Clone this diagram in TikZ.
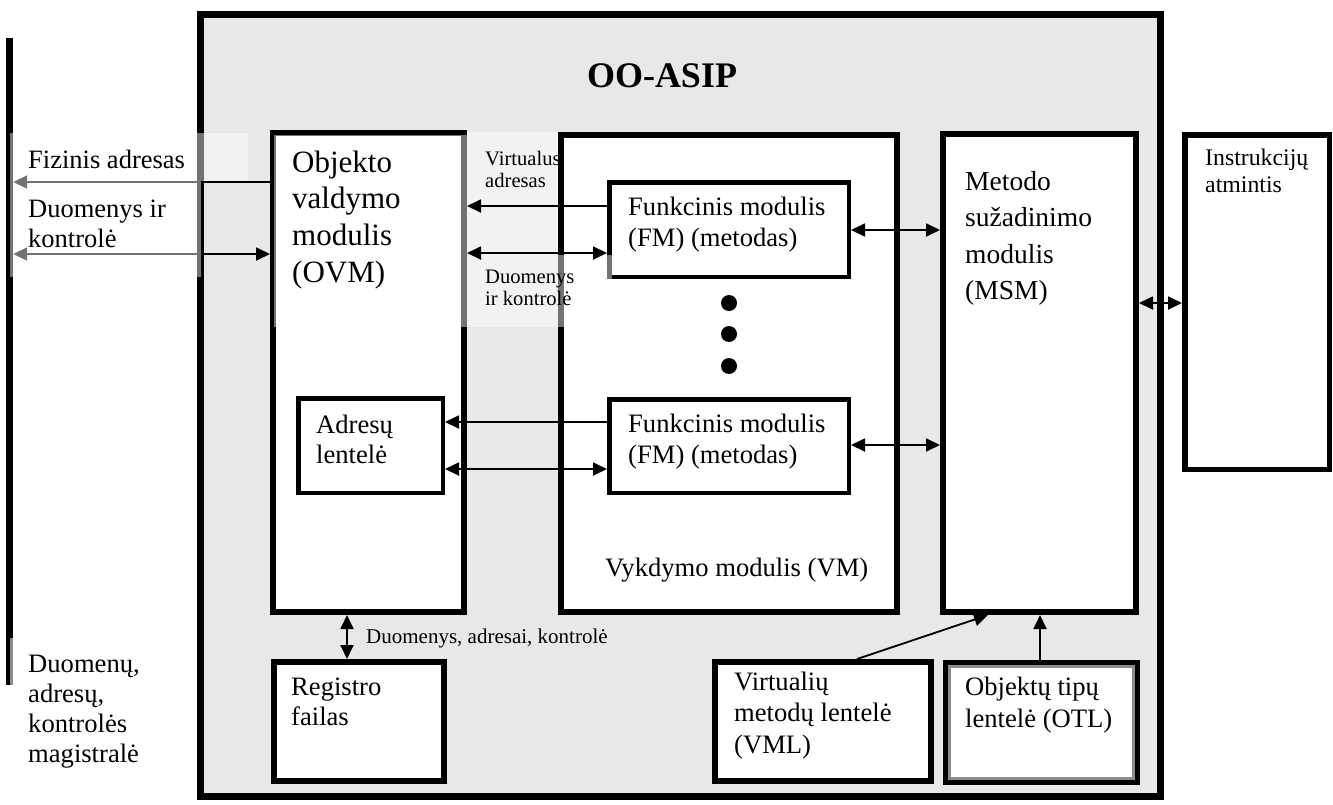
\documentclass[tikz,border=0pt]{standalone}
\usepackage{fontspec}
\setmainfont{Liberation Serif}
\usetikzlibrary{arrows.meta}
\definecolor{panel}{HTML}{E8E8E8}
\definecolor{rim}{HTML}{8C8C8C}
% text block: size, line skip, lines; baseline = first line
\newcommand{\lbl}[3]{{\fontsize{#1}{#2}\selectfont\begin{tabular}[t]{@{}l@{}}#3\end{tabular}}}
% box by its outer edges: [opts]{name}{x1}{y1}{x2}{y2}{line width}
\newcommand{\mkbox}[7][]{%
  \pgfmathsetmacro{\mbX}{(#3+#5)/2}\pgfmathsetmacro{\mbY}{(#4+#6)/2}%
  \pgfmathsetmacro{\mbW}{#5-#3-#7}\pgfmathsetmacro{\mbH}{#6-#4-#7}%
  \node[blk, line width=#7pt, minimum width=\mbW pt, minimum height=\mbH pt, #1] (#2) at (\mbX,\mbY) {};}
\begin{document}
\begin{tikzpicture}[x=1pt,y=-1pt,
  blk/.style={draw=black, fill=white, inner sep=0pt},
  veil/.style={fill=white, fill opacity=0.45},
  txt/.style={inner sep=0pt, anchor=base west},
  tip/.tip={Triangle[length=14pt 0, width=13pt 0]},
  arr/.style={line width=1.8pt, -tip},
  darr/.style={line width=1.8pt, tip-tip}]
\useasboundingbox (0,0) rectangle (1333,804);

% processor frame
\mkbox[fill=panel]{core}{197}{11}{1164}{800}{7}
% system bus
\node[fill=black, inner sep=0pt, minimum width=7pt, minimum height=647pt] (bus) at (9.5,361.5) {};

% label strip between OVM and VM
\fill[veil] (467,132) rectangle (558,255);
\node[txt] (va) at (485,165) {\lbl{20.6}{22.5}{Virtualus\\adresas}};

% modules
\mkbox{ovm}{270}{130}{467}{615}{6}
\mkbox{vm}{558}{132}{900}{615}{6}
\mkbox{msm}{940}{131}{1139}{615}{6}
\mkbox{im}{1182}{132}{1332}{472}{5.5}
\mkbox{fma}{607}{180}{851}{279}{4.5}
\mkbox{fmb}{607}{397}{851}{495}{4.5}
\mkbox{adr}{296}{396}{445}{495}{4.5}
\mkbox{reg}{271}{659}{447}{784}{6}
\mkbox{vml}{712}{659}{934}{784}{6}
\mkbox{otl}{943}{660}{1140}{785}{5}
\draw[rim, line width=2.5pt] (949.3,666.3) rectangle (1133.7,778.7);

% text frames laid over the borders
\fill[veil] (274,135) rectangle (467,327);
\fill[veil] (467,255) rectangle (612,327);
\fill[veil] (200.5,133) rectangle (248,182);

% connectors
\draw[arr]  (ovm.west |- 0,182) -- (bus.east |- 0,182);
\draw[darr] (bus.east |- 0,254) -- (ovm.west |- 0,254);
\draw[arr]  (fma.west |- 0,206) -- (ovm.east |- 0,206);
\draw[darr] (ovm.east |- 0,253) -- (fma.west |- 0,253);
\draw[darr] (fma.east |- 0,230) -- (msm.west |- 0,230);
\draw[arr]  (fmb.west |- 0,422) -- (adr.east |- 0,422);
\draw[darr] (adr.east |- 0,469) -- (fmb.west |- 0,469);
\draw[darr] (fmb.east |- 0,445) -- (msm.west |- 0,445);
\draw[darr] (msm.east |- 0,303) -- (im.west |- 0,303);
\draw[darr] (ovm.south -| 347,0) -- (reg.north -| 347,0);
\draw[arr]  (vml.north -| 857,0) -- (msm.south -| 988,0);
\draw[arr]  (otl.north -| 1040,0) -- (msm.south -| 1040,0);

% label frame on the bus side
\fill[veil] (9.5,133) rectangle (200.5,277);
\fill[rim] (9.5,638) rectangle (13,685);

% ellipsis between the functional modules
\fill (729,303) circle (8);
\fill (729,334) circle (8);
\fill (729,366) circle (8);

% texts
\node[txt, anchor=base] (title) at (662,87) {\fontsize{36}{40}\selectfont\bfseries OO-ASIP};
\node[txt] (pa) at (28,168) {\lbl{26.5}{30}{Fizinis adresas}};
\node[txt] (dk) at (28,217) {\lbl{26.5}{30}{Duomenys ir\\kontrolė}};
\node[txt] (ovmt) at (292,172) {\lbl{31}{36.7}{Objekto\\valdymo\\modulis\\(OVM)}};
\node[txt] (dk2) at (485,283) {\lbl{20.6}{22}{Duomenys\\ir kontrolė}};
\node[txt] (fmat) at (628,215) {\lbl{26.6}{31}{Funkcinis modulis\\(FM) (metodas)}};
\node[txt] (fmbt) at (628,432) {\lbl{26.6}{31}{Funkcinis modulis\\(FM) (metodas)}};
\node[txt] (vmt) at (605,576) {\lbl{26.6}{31}{Vykdymo modulis (VM)}};
\node[txt] (msmt) at (965,190) {\lbl{27.5}{36.5}{Metodo\\sužadinimo\\modulis\\(MSM)}};
\node[txt] (imt) at (1205,165) {\lbl{23.8}{27}{Instrukcijų\\atmintis}};
\node[txt] (adrt) at (316,433) {\lbl{26.6}{30}{Adresų\\lentelė}};
\node[txt] (regt) at (291,695) {\lbl{26.6}{30}{Registro\\failas}};
\node[txt] (dak) at (366,643) {\lbl{21}{24}{Duomenys, adresai, kontrolė}};
\node[txt] (vmlt) at (734,690) {\lbl{26.6}{31.5}{Virtualių\\metodų lentelė\\(VML)}};
\node[txt] (otlt) at (965,695) {\lbl{26.6}{32}{Objektų tipų\\lentelė (OTL)}};
\node[txt] (bust) at (28,672) {\lbl{26.6}{30}{Duomenų,\\adresų,\\kontrolės\\magistralė}};
\end{tikzpicture}
\end{document}
